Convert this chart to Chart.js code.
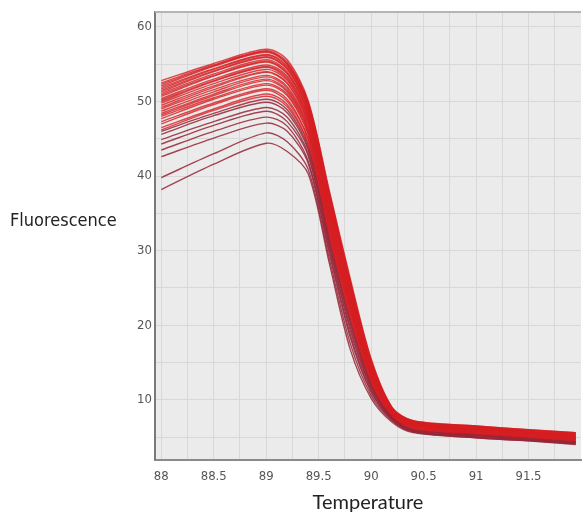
<!DOCTYPE html>
<html>
<head>
<meta charset="utf-8">
<script src="https://cdn.jsdelivr.net/npm/chart.js@4.4.1/dist/chart.umd.min.js"></script>
<style>
  html, body { margin: 0; padding: 0; background: #fff; }
</style>
</head>
<body>
<canvas id="meltChart" width="582" height="517"></canvas>
<script>
// melt curve readings, one row per well, sampled at these temperatures
const temps = [88.0, 88.5, 89.0, 89.2, 89.4, 89.6, 89.8, 90.0, 90.2, 90.4, 91.0, 91.5, 91.95];
const tempTicks = [88, 88.5, 89, 89.5, 90, 90.5, 91, 91.5];
const fluorTicks = [10, 20, 30, 40, 50, 60];

const wells = [
  [38.2, 41.6, 44.4, 43.3, 40.3, 28.4, 16.8, 10.2, 7.0, 5.6, 4.9, 4.5, 4.0],
  [39.8, 43.0, 45.8, 44.6, 40.9, 29.0, 17.6, 10.6, 7.2, 5.7, 4.9, 4.5, 4.1],
  [42.6, 45.1, 47.1, 46.0, 41.7, 29.7, 18.4, 11.0, 7.3, 5.7, 5.0, 4.6, 4.1],
  [43.5, 46.0, 47.9, 46.7, 42.0, 30.1, 18.8, 11.2, 7.4, 5.8, 5.0, 4.6, 4.2],
  [44.3, 46.8, 48.7, 47.3, 42.7, 30.6, 19.4, 11.5, 7.5, 5.8, 5.1, 4.7, 4.2],
  [44.9, 47.3, 49.2, 47.9, 43.0, 30.9, 19.8, 11.7, 7.5, 5.9, 5.2, 4.7, 4.3],
  [45.6, 48.1, 49.9, 48.5, 43.5, 31.4, 20.3, 11.9, 7.6, 5.9, 5.2, 4.8, 4.3],
  [46.0, 48.4, 50.3, 48.9, 43.8, 31.6, 20.6, 12.1, 7.6, 6.0, 5.3, 4.8, 4.4],
  [46.2, 48.8, 50.7, 49.3, 44.2, 32.0, 20.9, 12.3, 7.7, 6.0, 5.3, 4.9, 4.4],
  [46.5, 49.0, 51.0, 49.6, 44.4, 32.2, 21.1, 12.4, 7.7, 6.1, 5.4, 4.9, 4.5],
  [47.0, 49.6, 51.5, 50.0, 44.9, 32.6, 21.5, 12.6, 7.8, 6.1, 5.4, 5.0, 4.5],
  [47.3, 49.8, 51.7, 50.3, 45.0, 32.8, 21.7, 12.7, 7.8, 6.2, 5.5, 5.0, 4.6],
  [47.7, 50.3, 52.2, 50.8, 45.5, 33.1, 22.0, 12.9, 7.9, 6.2, 5.5, 5.0, 4.6],
  [48.0, 50.5, 52.4, 51.0, 45.7, 33.3, 22.2, 13.0, 7.9, 6.3, 5.6, 5.1, 4.7],
  [48.2, 50.8, 52.8, 51.3, 46.0, 33.6, 22.4, 13.1, 8.0, 6.3, 5.6, 5.1, 4.7],
  [48.4, 51.0, 53.0, 51.5, 46.2, 33.8, 22.5, 13.2, 8.0, 6.4, 5.7, 5.2, 4.7],
  [48.7, 51.3, 53.3, 51.8, 46.4, 34.1, 22.8, 13.3, 8.1, 6.4, 5.7, 5.2, 4.8],
  [49.0, 51.6, 53.5, 52.0, 46.7, 34.3, 22.9, 13.4, 8.1, 6.5, 5.8, 5.3, 4.8],
  [49.2, 51.9, 53.9, 52.4, 47.0, 34.6, 23.2, 13.6, 8.2, 6.5, 5.8, 5.3, 4.9],
  [49.5, 52.1, 54.0, 52.5, 47.2, 34.8, 23.3, 13.7, 8.2, 6.6, 5.9, 5.4, 4.9],
  [49.8, 52.4, 54.3, 52.8, 47.4, 35.0, 23.5, 13.8, 8.3, 6.6, 5.9, 5.4, 5.0],
  [50.0, 52.7, 54.6, 53.0, 47.7, 35.4, 23.8, 13.9, 8.3, 6.7, 6.0, 5.5, 5.0],
  [50.2, 52.8, 54.7, 53.2, 47.8, 35.5, 23.9, 14.0, 8.4, 6.7, 6.0, 5.5, 5.0],
  [50.4, 53.0, 54.9, 53.4, 48.0, 35.7, 24.1, 14.2, 8.4, 6.8, 6.0, 5.5, 5.1],
  [50.7, 53.4, 55.3, 53.7, 48.3, 36.1, 24.4, 14.3, 8.5, 6.8, 6.1, 5.6, 5.1],
  [50.9, 53.5, 55.4, 53.8, 48.4, 36.2, 24.5, 14.4, 8.5, 6.8, 6.1, 5.6, 5.2],
  [51.1, 53.7, 55.6, 54.0, 48.6, 36.4, 24.7, 14.5, 8.6, 6.9, 6.2, 5.7, 5.2],
  [51.3, 54.0, 55.9, 54.3, 48.9, 36.8, 25.0, 14.7, 8.6, 6.9, 6.2, 5.7, 5.3],
  [51.5, 54.1, 56.0, 54.4, 49.0, 36.9, 25.1, 14.7, 8.7, 7.0, 6.3, 5.7, 5.3],
  [51.7, 54.3, 56.2, 54.6, 49.2, 37.1, 25.3, 14.9, 8.7, 7.0, 6.3, 5.8, 5.4],
  [51.9, 54.4, 56.3, 54.8, 49.4, 37.3, 25.5, 15.0, 8.8, 7.1, 6.4, 5.8, 5.4],
  [52.1, 54.7, 56.6, 55.0, 49.6, 37.6, 25.7, 15.1, 8.8, 7.1, 6.4, 5.9, 5.5],
  [52.3, 54.8, 56.7, 55.1, 49.7, 37.7, 25.8, 15.2, 8.9, 7.1, 6.4, 5.9, 5.5],
  [52.5, 54.9, 56.8, 55.3, 49.9, 37.9, 26.0, 15.3, 8.9, 7.2, 6.5, 6.0, 5.6],
  [52.8, 55.1, 57.0, 55.6, 50.1, 38.1, 26.3, 15.5, 9.0, 7.2, 6.5, 6.0, 5.6]
];

// grey plot background, light top edge and the horizontal y title
const plotFrame = {
  id: 'plotFrame',
  beforeDraw(chart) {
    const { ctx, chartArea: a } = chart;
    ctx.save();
    ctx.fillStyle = '#ebebeb';
    ctx.fillRect(a.left, a.top, a.right - a.left, a.bottom - a.top);
    ctx.restore();
  },
  afterDraw(chart) {
    const { ctx, chartArea: a } = chart;
    ctx.save();
    ctx.strokeStyle = '#b4b4b4';
    ctx.lineWidth = 2;
    ctx.beginPath();
    ctx.moveTo(a.left, a.top);
    ctx.lineTo(a.right, a.top);
    ctx.stroke();

    ctx.fillStyle = '#222';
    ctx.font = '18px "DejaVu Sans Condensed", "DejaVu Sans", sans-serif';
    ctx.textBaseline = 'middle';
    ctx.textAlign = 'left';
    ctx.fillText('Fluorescence', 10, 221);
    ctx.restore();
  }
};

const tickFont = { family: '"Liberation Sans Narrow", "DejaVu Sans Condensed", sans-serif', size: 13 };

new Chart(document.getElementById('meltChart'), {
  type: 'line',
  data: {
    datasets: wells.map((vals, i) => ({
      data: vals.map((v, j) => ({ x: temps[j], y: v })),
      borderColor: i < 8 ? 'rgba(150, 38, 55, 0.85)' : 'rgba(214, 30, 34, 0.8)',
      borderWidth: 1.4,
      pointRadius: 0,
      fill: false,
      tension: 0.3
    }))
  },
  options: {
    responsive: false,
    animation: false,
    layout: { padding: { left: 0, top: 12, right: 1, bottom: 0 } },
    plugins: { legend: { display: false }, tooltip: { enabled: false } },
    scales: {
      x: {
        type: 'linear',
        min: 87.94,
        max: 92.0,
        afterBuildTicks: s => { s.ticks = tempTicks.flatMap(t => [t, t + 0.25]).map(v => ({ value: v })); },
        afterFit: s => { s.height = 57.5; },
        grid: { color: '#d8d8d8', drawTicks: false },
        border: { color: '#8a8a8a', width: 2 },
        ticks: {
          padding: 9,
          color: '#555',
          font: tickFont,
          autoSkip: false,
          maxRotation: 0,
          callback: v => tempTicks.includes(v) ? String(v) : ''
        },
        title: {
          display: true,
          text: 'Temperature',
          color: '#222',
          font: { family: 'Lato, "DejaVu Sans", sans-serif', size: 20 },
          padding: { top: 0, bottom: 2 }
        }
      },
      y: {
        min: 2,
        max: 62,
        afterBuildTicks: s => { s.ticks = fluorTicks.flatMap(t => [t - 5, t]).map(v => ({ value: v })); },
        afterFit: s => { s.width = 155; },
        grid: { color: '#d8d8d8', drawTicks: false },
        border: { color: '#7a7a7a', width: 2 },
        ticks: {
          padding: 3,
          color: '#555',
          font: tickFont,
          callback: v => fluorTicks.includes(v) ? String(v) : ''
        }
      }
    }
  },
  plugins: [plotFrame]
});
</script>
</body>
</html>
